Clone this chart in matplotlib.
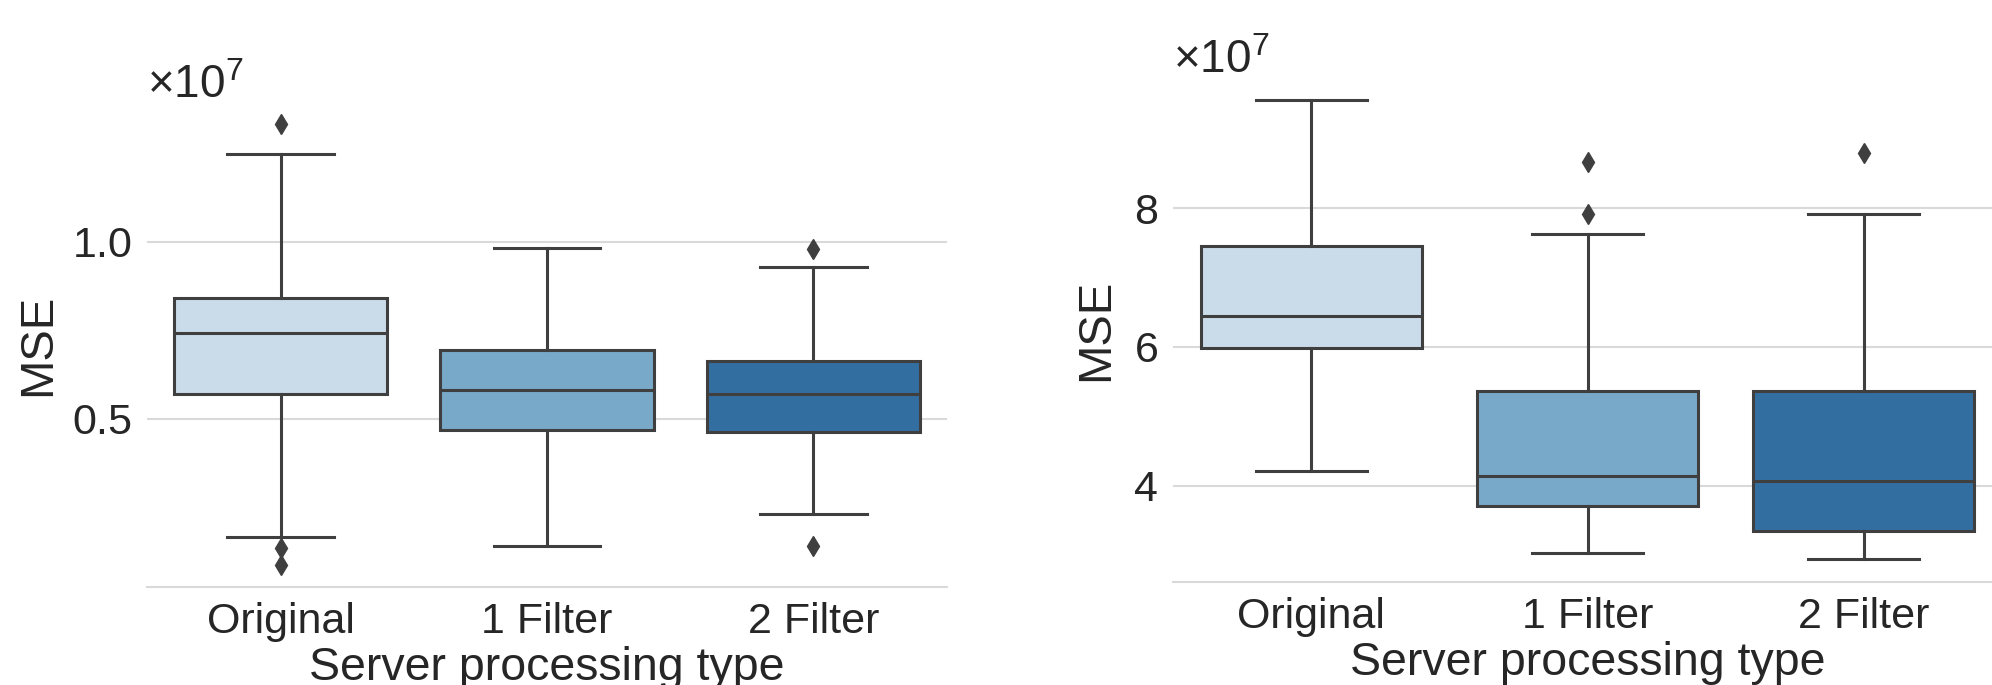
import matplotlib
matplotlib.use("Agg")
import matplotlib.pyplot as plt
from matplotlib.ticker import MultipleLocator, ScalarFormatter

plt.rcParams['font.family'] = ['Liberation Sans', 'DejaVu Sans']
plt.rcParams['mathtext.fontset'] = 'custom'
plt.rcParams['mathtext.rm'] = 'Liberation Sans'

# ─── data (units of 1e7) ──────────────────────────────────────────────────────
categories = ["Original", "1 Filter", "2 Filter"]
box_colors = ["#cadbea", "#78a9c8", "#336ea0"]

# left panel
left_whislo = [0.165, 0.140, 0.230]
left_q1     = [0.570, 0.469, 0.463]
left_med    = [0.742, 0.581, 0.570]
left_q3     = [0.842, 0.693, 0.663]
left_whishi = [1.247, 0.983, 0.930]
left_fliers = [[1.333, 0.133, 0.086], [], [0.980, 0.140]]

# right panel
right_whislo = [4.21, 3.03, 2.94]
right_q1     = [5.98, 3.70, 3.35]
right_med    = [6.45, 4.13, 4.06]
right_q3     = [7.46, 5.36, 5.36]
right_whishi = [9.56, 7.63, 7.91]
right_fliers = [[], [7.92, 8.67], [8.79]]

SCALE = 1e7
LINE = "#3f3f3f"
TEXT = "#262626"


def make_stats(lo, q1, med, q3, hi, fl):
    stats = []
    for i in range(len(categories)):
        stats.append(dict(whislo=lo[i] * SCALE, q1=q1[i] * SCALE,
                          med=med[i] * SCALE, q3=q3[i] * SCALE,
                          whishi=hi[i] * SCALE,
                          fliers=[v * SCALE for v in fl[i]],
                          label=categories[i]))
    return stats


def draw(ax, stats, step, label_x):
    ax.yaxis.grid(True, color="#d9d9d9", linewidth=1.5, zorder=0)
    ax.set_axisbelow(True)
    lw = 2.2
    bp = ax.bxp(stats, positions=range(len(categories)), widths=0.8,
                patch_artist=True,
                boxprops=dict(edgecolor=LINE, linewidth=lw),
                medianprops=dict(color=LINE, linewidth=lw),
                whiskerprops=dict(color=LINE, linewidth=lw),
                capprops=dict(color=LINE, linewidth=lw),
                flierprops=dict(marker='d', markersize=10,
                                markerfacecolor=LINE, markeredgecolor=LINE))
    for patch, c in zip(bp['boxes'], box_colors):
        patch.set_facecolor(c)
    ax.set_xlim(-0.5, len(categories) - 0.5)

    fmt = ScalarFormatter(useMathText=True)
    fmt.set_powerlimits((0, 0))
    ax.yaxis.set_major_formatter(fmt)
    ax.yaxis.set_major_locator(MultipleLocator(step * SCALE))
    ax.yaxis.get_offset_text().set_fontsize(33)
    ax.yaxis.get_offset_text().set_color(TEXT)

    ax.tick_params(axis='both', length=0, labelsize=31, colors=TEXT, pad=11)
    for s in ['top', 'right', 'left']:
        ax.spines[s].set_visible(False)
    ax.spines['bottom'].set_color("#d9d9d9")
    ax.spines['bottom'].set_linewidth(1.5)

    ax.set_xlabel("Server processing type", fontsize=33.5, color=TEXT, labelpad=3)
    ax.set_ylabel("MSE", fontsize=34, color=TEXT)
    ax.yaxis.set_label_coords(label_x, 0.5)


fig = plt.figure(figsize=(19.92, 6.85), dpi=100)
ax1 = fig.add_axes([0.0740, 0.1431, 0.4012, 0.708])
ax2 = fig.add_axes([0.5890, 0.1504, 0.4159, 0.7372])

draw(ax1, make_stats(left_whislo, left_q1, left_med, left_q3, left_whishi, left_fliers),
     0.5, -0.109)
draw(ax2, make_stats(right_whislo, right_q1, right_med, right_q3, right_whishi, right_fliers),
     2.0, -0.067)

fig.savefig("out.png", dpi=100)
